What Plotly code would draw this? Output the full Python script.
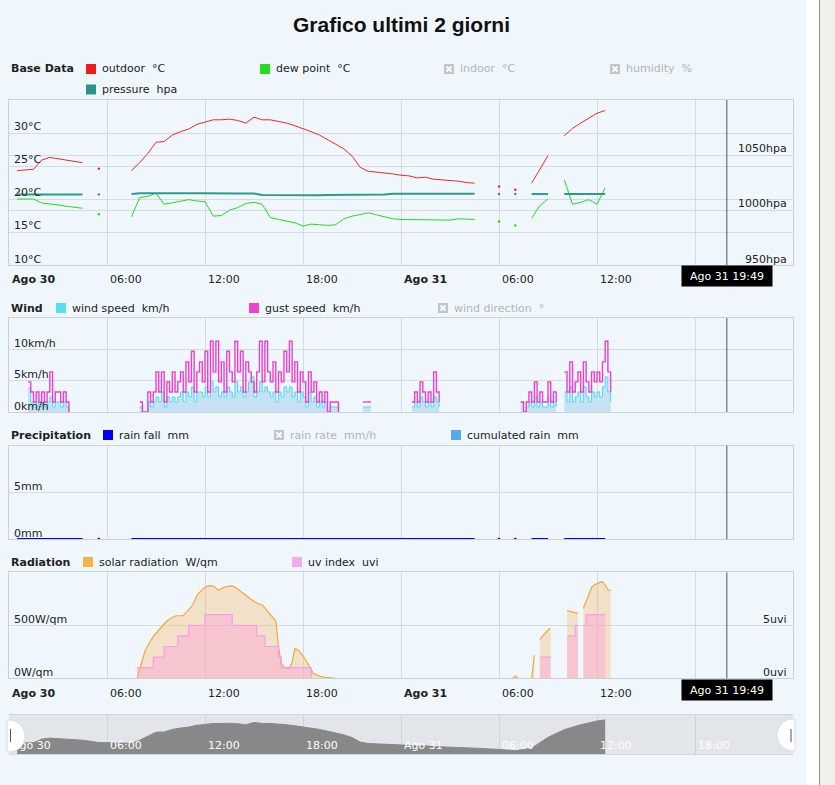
import pandas as pd
import plotly.graph_objects as go

N = None
T0 = "2023-08-30 00:00"
T1 = "2023-09-01 00:00"
CURSOR_TIME = "2023-08-31 19:57"
CURSOR_LABEL = "Ago 31 19:49"
TITLE = "Grafico ultimi 2 giorni"

# --- slow sensors, one value every 30 minutes from Ago 30 00:00 (10 per row = 5 hours) ---
outdoor_c = [
    N, 24.3, 24.4, 24.5, 25.9, 26.3, 26.1, 25.9, 25.6, 25.5,
    N, 24.6, N, N, N, 24.3, 25.5, 26.9, 28.6, 28.7,
    29.7, 30.2, 30.6, 31.3, 31.7, 32.0, 32.0, 32.1, 31.9, 31.5,
    32.4, 32.0, 32.0, 31.8, 31.5, 31.1, 30.7, 30.2, 29.7, 29.0,
    28.4, 27.6, 26.5, 24.8, 24.2, 24.1, 23.9, 23.8, 23.6, 23.5,
    23.2, 23.3, 23.0, 22.9, 22.9, 22.7, 22.5, 22.4, N, N,
    21.9, N, 21.4, N, 22.4, 24.5, 26.6, N, 29.6, 30.7,
    31.5, 32.2, 33.0, 33.4, N,
]
dew_point_c = [
    N, 20.0, 20.0, 20.0, 19.4, 19.3, 19.1, 18.9, 18.7, 18.6,
    N, 17.7, N, N, N, 17.3, 20.2, 20.4, 20.9, 19.2,
    19.4, 19.6, 19.9, 19.7, 19.6, 17.4, 17.5, 18.3, 18.7, 19.3,
    19.5, 19.2, 17.2, 16.9, 16.6, 16.4, 15.9, 16.2, 16.1, 16.0,
    16.1, 17.0, 17.4, 17.6, 17.9, 17.6, 17.3, 17.0, 16.9, 16.9,
    16.8, 16.9, 16.9, 16.9, 16.8, 17.0, 17.0, 16.9, N, N,
    16.6, N, 16.0, N, 17.1, 19.0, 20.0, N, 22.9, 19.2,
    19.5, 19.9, 19.2, 21.7, N,
]
pressure_hpa = [
    N, 1014.0, 1014.0, 1014.1, 1014.0, 1014.0, 1014.1, 1014.0, 1014.0, 1014.0,
    N, 1014.0, N, N, N, 1014.5, 1015.2, 1015.2, 1015.3, 1015.2,
    1015.2, 1015.3, 1015.2, 1015.2, 1015.2, 1015.0, 1015.0, 1015.0, 1015.0, 1015.0,
    1015.0, 1013.6, 1013.5, 1013.5, 1013.5, 1013.5, 1013.5, 1013.5, 1013.5, 1013.6,
    1013.6, 1014.0, 1014.0, 1014.0, 1014.0, 1014.0, 1014.1, 1014.8, 1014.8, 1014.8,
    1014.8, 1014.8, 1014.8, 1014.8, 1014.8, 1014.8, 1014.8, 1014.8, N, N,
    1014.5, N, 1014.5, N, 1014.5, 1014.5, 1014.5, N, 1014.5, 1014.5,
    1014.5, 1014.5, 1014.5, 1014.5, N,
]
rain_fall_mm = [
    N, 0, 0, 0, 0, 0, 0, 0, 0, 0,
    N, 0, N, N, N, 0, 0, 0, 0, 0,
    0, 0, 0, 0, 0, 0, 0, 0, 0, 0,
    0, 0, 0, 0, 0, 0, 0, 0, 0, 0,
    0, 0, 0, 0, 0, 0, 0, 0, 0, 0,
    0, 0, 0, 0, 0, 0, 0, 0, N, N,
    0, N, 0, N, 0, 0, 0, N, 0, 0,
    0, 0, 0, 0, N,
]
cumulated_rain_mm = rain_fall_mm

# --- fast sensors, 10-minute values keyed by hour since Ago 30 00:00 (hours without data left out) ---
gust_kmh = {
    1: [N, 4.8, 3.2, 1.6, 3.2, 1.6],
    2: [3.2, 1.6, 3.2, 6.4, 1.6, 3.2],
    3: [3.2, 1.6, 3.2, 1.6, 0, N],
    8: [1.6, 0, 0, 3.2, 1.6, 3.2],
    9: [6.4, 3.2, 6.4, 1.6, 4.8, 3.2],
    10: [6.4, 3.2, 4.8, 6.4, 3.2, 8.0],
    11: [4.8, 9.7, 3.2, 6.4, 8.0, 4.8],
    12: [9.7, 3.2, 11.3, 6.4, 11.3, 4.8],
    13: [8.0, 3.2, 9.7, 6.4, 4.8, 11.3],
    14: [6.4, 9.7, 3.2, 8.0, 6.4, 4.8],
    15: [3.2, 6.4, 11.3, 4.8, 11.3, 6.4],
    16: [4.8, 8.0, 3.2, 6.4, 4.8, 9.7],
    17: [6.4, 11.3, 4.8, 8.0, 3.2, 6.4],
    18: [4.8, 1.6, 6.4, 3.2, 4.8, 1.6],
    19: [3.2, 1.6, 3.2, 0, 1.6, 1.6],
    20: [1.6, 0, N, N, N, N],
    21: [N, N, N, N, 1.6, 1.6],
    22: [1.6, 1.6, N, N, N, N],
    24: [N, N, N, N, 1.6, 3.2],
    25: [1.6, 4.8, 3.2, 1.6, 3.2, 1.6],
    26: [6.4, 3.2, 1.6, N, N, N],
    31: [N, N, 1.6, 0, 1.6, 3.2],
    32: [1.6, 4.8, 1.6, 3.2, 1.6, 1.6],
    33: [4.8, 1.6, 3.2, 1.6, N, N],
    34: [6.4, 3.2, 8.0, 3.2, 4.8, 6.4],
    35: [3.2, 8.0, 4.8, 3.2, 6.4, 4.8],
    36: [6.4, 4.8, 8.0, 11.3, 6.4, 3.2],
}
wind_kmh = {
    1: [N, 3.8, 1.6, 0.8, 1.6, 0.8],
    2: [1.6, 0.8, 1.6, 2.4, 0.8, 1.6],
    3: [1.6, 0.8, 1.6, 0.8, 0, N],
    8: [0.8, 0, 0, 1.6, 0.8, 1.6],
    9: [2.4, 1.6, 3.2, 0.8, 2.4, 1.6],
    10: [2.4, 1.6, 2.4, 3.2, 1.6, 3.2],
    11: [2.4, 4.0, 1.6, 3.2, 3.2, 2.4],
    12: [4.0, 2.4, 4.8, 3.2, 4.0, 2.4],
    13: [3.2, 2.4, 4.0, 3.2, 2.4, 4.8],
    14: [3.2, 4.0, 2.4, 3.2, 4.8, 5.6],
    15: [2.4, 3.2, 4.8, 3.2, 4.0, 3.2],
    16: [2.4, 3.2, 1.6, 3.2, 2.4, 4.0],
    17: [3.2, 4.0, 2.4, 3.2, 1.6, 3.2],
    18: [2.4, 0.8, 3.2, 1.6, 2.4, 0.8],
    19: [1.6, 0.8, 1.6, 0, 0.8, 0.8],
    20: [0.8, 0, N, N, N, N],
    21: [N, N, N, N, 0.8, 0.8],
    22: [0.8, 0.8, N, N, N, N],
    24: [N, N, N, N, 0.8, 1.6],
    25: [0.8, 2.4, 1.6, 0.8, 1.6, 0.8],
    26: [2.4, 1.6, 0.8, N, N, N],
    31: [N, N, 1.6, 0, 0.8, 1.6],
    32: [0.8, 2.4, 0.8, 1.6, 0.8, 0.8],
    33: [2.4, 0.8, 1.6, 0.8, N, N],
    34: [3.2, 1.6, 4.0, 1.6, 2.4, 3.2],
    35: [1.6, 4.0, 2.4, 1.6, 3.2, 2.4],
    36: [3.2, 2.4, 4.0, 5.6, 3.2, 1.6],
}
solar_wqm = {
    7: [N, N, N, N, N, 0],
    8: [90, 180, 260, 310, 360, 395],
    9: [425, 455, 490, 515, 540, 560],
    10: [575, 588, 590, 588, 590, 620],
    11: [650, 675, 720, 780, 810, 840],
    12: [860, 871, 875, 871, 850, 833],
    13: [845, 860, 865, 870, 871, 860],
    14: [840, 820, 800, 780, 760, 740],
    15: [725, 710, 700, 691, 665, 630],
    16: [597, 570, 545, 298, 140, 110],
    17: [94, 94, 150, 283, 270, 245],
    18: [210, 175, 130, 80, 45, 30],
    19: [20, 15, 10, 6, 4, 2],
    20: [0, N, N, N, N, N],
    30: [N, N, N, N, N, 0],
    31: [22, 0, N, N, N, N],
    32: [0, 220, N, 368, 400, 430],
    33: [455, 472, N, N, N, N],
    34: [N, 640, 632, 625, 618, 613],
    35: [N, 660, 720, 790, 855, 880],
    36: [895, 905, 911, 880, 835, 827],
}
uv_index = {
    7: [N, N, N, N, N, 1],
    8: [1, 1, 1, 1, 1, 2],
    9: [2, 2, 2, 3, 3, 3],
    10: [3, 3, 4, 4, 4, 4],
    11: [5, 5, 5, 5, 5, 5],
    12: [6, 6, 6, 6, 6, 6],
    13: [6, 6, 6, 6, 5, 5],
    14: [5, 5, 5, 5, 5, 5],
    15: [5, 4, 4, 4, 3, 3],
    16: [3, 3, 3, 2, 1, 1],
    17: [1, 1, 1, 1, 1, 1],
    18: [1, 1, 1, 0, N, N],
    32: [N, N, N, 2, 2, 2],
    33: [2, 2, N, N, N, N],
    34: [N, 4, 4, 4, 5, 5],
    35: [N, 5, 6, 6, 6, 6],
    36: [6, 6, 6, 6, N, N],
}
HOURS = 37

# --- axis text ---
tick_times = ["2023-08-30 00:00", "2023-08-30 06:00", "2023-08-30 12:00", "2023-08-30 18:00",
              "2023-08-31 00:00", "2023-08-31 06:00", "2023-08-31 12:00", "2023-08-31 18:00"]
tick_labels = ["<b>Ago 30</b>", "06:00", "12:00", "18:00", "<b>Ago 31</b>", "06:00", "12:00", ""]
nav_labels = ["Ago 30", "06:00", "12:00", "18:00", "Ago 31", "06:00", "12:00", "18:00"]
temp_ticks = [10, 15, 20, 25, 30]
pressure_ticks = [950, 1000, 1050]
wind_ticks = [0, 5, 10]
rain_ticks = [0, 5]
solar_ticks = [0, 500]
uv_ticks = [0, 5]


def hourly(d):
    out = []
    for h in range(HOURS):
        out.extend(d.get(h, [N] * 6))
    return out


t30 = pd.date_range(T0, periods=len(outdoor_c), freq="30min")
t10 = pd.date_range(T0, periods=HOURS * 6, freq="10min")

W, H = 835, 785
FONT = "DejaVu Sans"
BG = "#eff7fd"
GRID = "#d5dbe1"
FRAME = "#c9d0d8"


def px(x):
    return x / W


def py(y):
    return 1 - y / H


fig = go.Figure()


def add_series(x, y, xa, ya, color, width, fillcolor=None, shape="linear"):
    # one trace per unbroken run so that fills do not bridge the gaps
    runs, cur = [], []
    for xi, yi in zip(x, y):
        if yi is None:
            if cur:
                runs.append(cur)
            cur = []
        else:
            cur.append((xi, yi))
    if cur:
        runs.append(cur)
    for run in runs:
        xs = [p[0] for p in run]
        ys = [p[1] for p in run]
        single = len(run) == 1
        fig.add_trace(go.Scatter(
            x=xs, y=ys, mode="markers" if single else "lines",
            line=dict(color=color, width=width, shape=shape),
            marker=dict(color=color, size=2.5),
            fill="tozeroy" if (fillcolor and not single) else None,
            fillcolor=fillcolor, xaxis=xa, yaxis=ya, hoverinfo="x+y"))


# base data
add_series(t30, dew_point_c, "x", "y", "#22dd22", 1)
add_series(t30, pressure_hpa, "x", "y2", "#2b9c8c", 2)
add_series(t30, outdoor_c, "x", "y", "#f02828", 1)
# wind
add_series(t10, hourly(wind_kmh), "x2", "y3", "#4fd8ee", 1, fillcolor="#c6e1f4", shape="hv")
add_series(t10, hourly(gust_kmh), "x2", "y3", "#ee3fcc", 1.4, shape="hv")
# precipitation
add_series(t30, cumulated_rain_mm, "x3", "y4", "#55aaee", 2)
add_series(t30, rain_fall_mm, "x3", "y4", "#0000ee", 2)
# radiation
add_series(t10, hourly(solar_wqm), "x4", "y5", "#f5a63e", 1.2, fillcolor="rgba(248,180,90,0.32)")
add_series(t10, hourly(uv_index), "x4", "y6", "#f59ef0", 1.2, fillcolor="rgba(255,160,215,0.42)",
           shape="hv")
# navigator
fig.add_trace(go.Scatter(x=t30, y=outdoor_c, mode="lines", connectgaps=True,
                         line=dict(color="#888888", width=1), fill="tozeroy",
                         fillcolor="#888888", xaxis="x5", yaxis="y7", hoverinfo="skip"))

xbase = dict(type="date", range=[T0, T1], domain=[px(9), px(793)], showgrid=True,
             gridcolor=GRID, tick0=T0, dtick=6 * 3600 * 1000, showticklabels=False,
             showline=True, mirror=True, linecolor=FRAME, zeroline=False, ticks="")
ybase = dict(showticklabels=False, showgrid=True, gridcolor=GRID, zeroline=False,
             showline=True, mirror=True, linecolor=FRAME, ticks="")

layout = dict(
    width=W, height=H, autosize=False, showlegend=False,
    margin=dict(l=0, r=0, t=0, b=0),
    paper_bgcolor=BG, plot_bgcolor=BG,
    font=dict(family=FONT, size=11, color="#222"),
    xaxis=dict(xbase, anchor="y"),
    xaxis2=dict(xbase, anchor="y3", matches="x"),
    xaxis3=dict(xbase, anchor="y4", matches="x"),
    xaxis4=dict(xbase, anchor="y5", matches="x"),
    xaxis5=dict(xbase, anchor="y7", matches="x", gridcolor="#cfd2d6", linecolor="#d4d7db"),
    yaxis=dict(ybase, domain=[py(265), py(100)], range=[10, 35], tickvals=temp_ticks[1:]),
    yaxis2=dict(ybase, overlaying="y", side="right", range=[950, 1100],
                tickvals=pressure_ticks[1:], showline=False),
    yaxis3=dict(ybase, domain=[py(412), py(318)], range=[0, 15], tickvals=wind_ticks[1:]),
    yaxis4=dict(ybase, domain=[py(539), py(445.7)], range=[0, 10], tickvals=rain_ticks[1:]),
    yaxis5=dict(ybase, domain=[py(678.3), py(572.3)], range=[0, 1000], tickvals=solar_ticks[1:]),
    yaxis6=dict(ybase, overlaying="y5", side="right", range=[0, 10], showgrid=False,
                showline=False),
    yaxis7=dict(ybase, domain=[py(754.3), py(715)], range=[20, 35.3], showgrid=False,
                showline=False),
)
fig.update_layout(layout)

shapes = []
anns = []

# navigator background
shapes.append(dict(type="rect", xref="x5 domain", yref="y7 domain", x0=0, x1=1, y0=0, y1=1,
                   fillcolor="#e2e5e9", line_width=0, layer="below"))

# cursor line in each panel
for xa, ya in [("x", "y"), ("x2", "y3"), ("x3", "y4"), ("x4", "y5")]:
    shapes.append(dict(type="line", xref=xa, yref=ya + " domain", x0=CURSOR_TIME, x1=CURSOR_TIME,
                       y0=0, y1=1, line=dict(color="#555555", width=1)))

# title
anns.append(dict(text="<b>%s</b>" % TITLE, xref="paper", yref="paper", x=px(401), y=py(25),
                 xanchor="center", yanchor="middle", showarrow=False,
                 font=dict(family="Liberation Sans", size=21, color="#111")))


def add_text(text, x, y, color="#222", bold=False, anchor="left", xref="paper", yref="paper",
             yshift=0, size=11):
    anns.append(dict(text="<b>%s</b>" % text if bold else text, xref=xref, yref=yref, x=x, y=y,
                     xanchor=anchor, yanchor="middle", showarrow=False, yshift=yshift,
                     font=dict(family=FONT, size=size, color=color)))


def legend_item(x, y, text, color):
    if color:
        shapes.append(dict(type="rect", xref="paper", yref="paper", x0=px(x), x1=px(x + 10),
                           y0=py(y + 5), y1=py(y - 5), fillcolor=color, line_width=0))
        add_text(text, px(x + 14), py(y))
    else:
        shapes.append(dict(type="rect", xref="paper", yref="paper", x0=px(x), x1=px(x + 10),
                           y0=py(y + 5), y1=py(y - 5), fillcolor="#c4c4c4", line_width=0))
        for a, b in [((x + 2.5, y - 2.5), (x + 7.5, y + 2.5)), ((x + 2.5, y + 2.5), (x + 7.5, y - 2.5))]:
            shapes.append(dict(type="line", xref="paper", yref="paper", x0=px(a[0]), y0=py(a[1]),
                               x1=px(b[0]), y1=py(b[1]), line=dict(color="white", width=2)))
        add_text(text, px(x + 14), py(y), color="#b4b4b4")


NB = "\u00a0"
add_text("Base Data", px(9), py(69), bold=True)
legend_item(86, 69, "outdoor" + NB + NB + "°C", "#ee1c1c")
legend_item(260, 69, "dew point" + NB + NB + "°C", "#22dd22")
legend_item(444, 69, "indoor" + NB + NB + "°C", None)
legend_item(610, 69, "humidity" + NB + NB + "%", None)
legend_item(86, 89.5, "pressure" + NB + NB + "hpa", "#26968a")

add_text("Wind", px(9), py(308), bold=True)
legend_item(56, 308, "wind speed" + NB + NB + "km/h", "#55e0f0")
legend_item(249, 308, "gust speed" + NB + NB + "km/h", "#ee44cc")
legend_item(438, 308, "wind direction" + NB + NB + "°", None)

add_text("Precipitation", px(9), py(435), bold=True)
legend_item(103, 435, "rain fall" + NB + NB + "mm", "#0000ee")
legend_item(274, 435, "rain rate" + NB + NB + "mm/h", None)
legend_item(451, 435, "cumulated rain" + NB + NB + "mm", "#55aaee")

add_text("Radiation", px(9), py(562), bold=True)
legend_item(83, 562, "solar radiation" + NB + NB + "W/qm", "#f8b048")
legend_item(292, 562, "uv index" + NB + NB + "uvi", "#f8a8f0")

# y labels inside plots
for v in temp_ticks:
    add_text("%d°C" % v, px(12), v, yref="y", yshift=6)
for v in pressure_ticks:
    add_text("%dhpa" % v, px(789), v, yref="y2", yshift=6, anchor="right")
for v in wind_ticks:
    add_text("%dkm/h" % v, px(12), v, yref="y3", yshift=6)
for v in rain_ticks:
    add_text("%dmm" % v, px(12), v, yref="y4", yshift=6)
for v in solar_ticks:
    add_text("%dW/qm" % v, px(12), v, yref="y5", yshift=6)
for v in uv_ticks:
    add_text("%duvi" % v, px(789), v, yref="y6", yshift=6, anchor="right")

# time labels (left aligned after the grid line)
for t, lab in zip(tick_times, tick_labels):
    for yy in (280, 693):
        anns.append(dict(text=lab, xref="x", yref="paper", x=t, y=py(yy), xanchor="left",
                         yanchor="middle", xshift=1, showarrow=False,
                         font=dict(family=FONT, size=11, color="#222")))
for t, lab in zip(tick_times, nav_labels):
    anns.append(dict(text=lab, xref="x5", yref="paper", x=t, y=py(745), xanchor="left",
                     yanchor="middle", xshift=1, showarrow=False,
                     font=dict(family=FONT, size=11, color="#ffffff")))

# cursor label boxes
for yy in (276, 689.5):
    anns.append(dict(text=CURSOR_LABEL, xref="x", yref="paper", x=CURSOR_TIME, y=py(yy),
                     xanchor="center", yanchor="middle", showarrow=False, bgcolor="#000000",
                     width=88, height=18, font=dict(family=FONT, size=11, color="#ffffff")))


# navigator handles
def path(points):
    out = []
    for cmd, pts in points:
        out.append(cmd + " ".join("%.5f,%.5f" % (px(a), py(b)) for a, b in pts))
    return " ".join(out) + " Z"


left_handle = path([("M", [(7, 720)]), ("L", [(9, 720)]),
                    ("C", [(17.8, 720), (25, 727.2), (25, 736)]),
                    ("C", [(25, 744.8), (17.8, 752), (9, 752)]), ("L", [(7, 752)])])
right_handle = path([("M", [(795, 719)]), ("L", [(793, 719)]),
                     ("C", [(784.2, 719), (777, 726.2), (777, 735)]),
                     ("C", [(777, 743.8), (784.2, 751), (793, 751)]), ("L", [(795, 751)])])
for p in (left_handle, right_handle):
    shapes.append(dict(type="path", xref="paper", yref="paper", path=p, fillcolor="#ffffff",
                       line=dict(color="#dddddd", width=1)))
for gx in (10.5, 791):
    shapes.append(dict(type="line", xref="paper", yref="paper", x0=px(gx), x1=px(gx),
                       y0=py(729), y1=py(742), line=dict(color="#555555", width=1)))

# window edge at the right
shapes.append(dict(type="rect", xref="paper", yref="paper", x0=px(806), x1=px(819), y0=0, y1=1,
                   fillcolor="#ffffff", line_width=0))
shapes.append(dict(type="rect", xref="paper", yref="paper", x0=px(820), x1=1, y0=0, y1=1,
                   fillcolor="#f1efe9", line_width=0))
shapes.append(dict(type="line", xref="paper", yref="paper", x0=px(819.5), x1=px(819.5), y0=0, y1=1,
                   line=dict(color="#8c8c8c", width=1)))

fig.update_layout(shapes=shapes, annotations=anns)
fig.write_html("out.html", config={"displayModeBar": False},
               post_script="document.body.style.margin='0px';")
